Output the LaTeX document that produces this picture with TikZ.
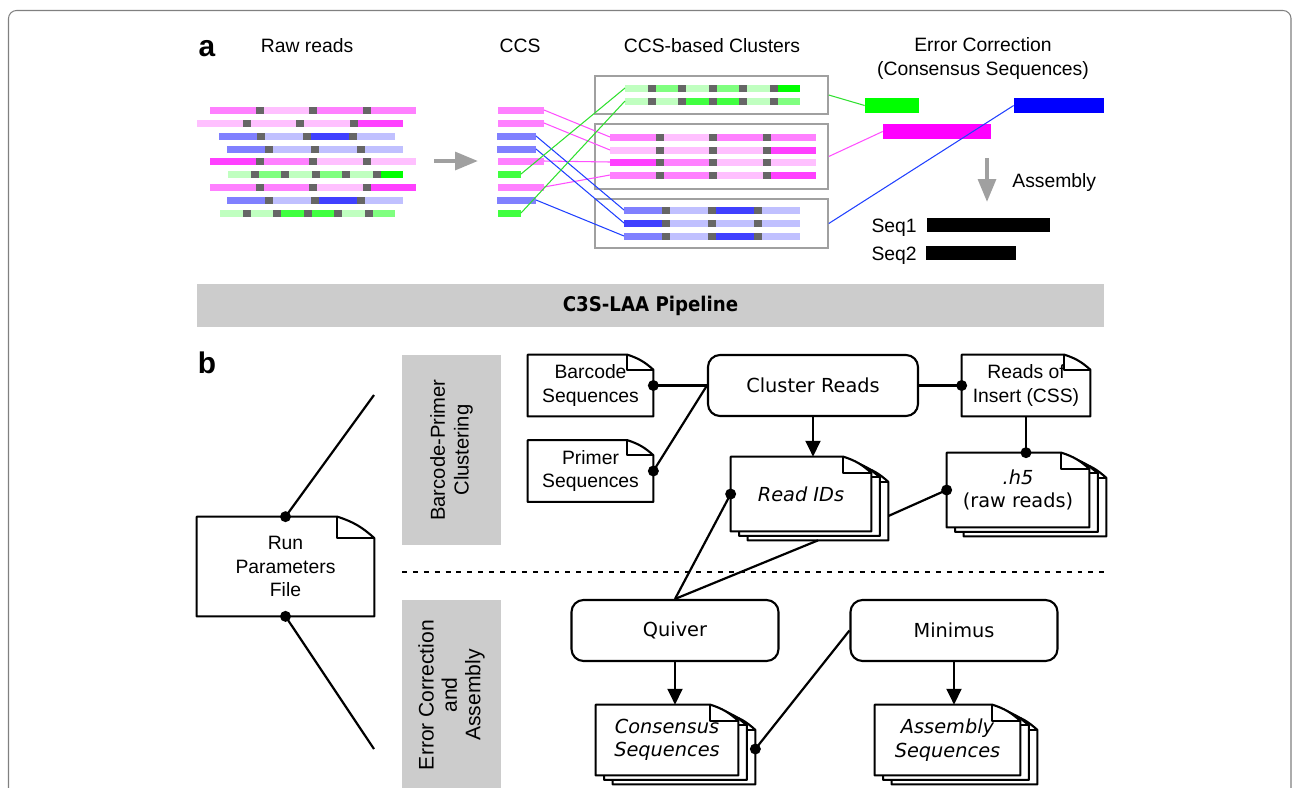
\documentclass[tikz,border=0pt]{standalone}
\usepackage{fontspec}
\setmainfont{Liberation Sans}
\newfontfamily\dvfont{DejaVu Sans}
\newfontfamily\titlefont{DejaVu Sans Condensed Bold}
\usetikzlibrary{arrows.meta,calc,backgrounds}

\definecolor{pA}{HTML}{FFC0FF}
\definecolor{pB}{HTML}{FF80FF}
\definecolor{pC}{HTML}{FF40FF}
\definecolor{bA}{HTML}{C0C0FF}
\definecolor{bB}{HTML}{8080FF}
\definecolor{bC}{HTML}{4040FF}
\definecolor{gA}{HTML}{C0FFC0}
\definecolor{gB}{HTML}{80FF80}
\definecolor{gC}{HTML}{40FF40}
\definecolor{gD}{HTML}{00FF00}
\definecolor{pD}{HTML}{FF00FF}
\definecolor{bD}{HTML}{0000FF}
\definecolor{sep}{HTML}{666666}
\definecolor{lanegray}{HTML}{CCCCCC}
\definecolor{boxgray}{HTML}{A0A0A0}
\definecolor{pinkln}{HTML}{FF50FF}
\definecolor{blueln}{HTML}{2040FF}
\definecolor{greenln}{HTML}{30E030}

\newcommand{\elevenpt}{\fontsize{11pt}{13.3pt}\selectfont}

% one read: name, x, y, segment length, colours
\newcommand{\readbar}[5]{%
  \foreach \col [count=\i from 0] in {#5}{
    \ifnum\i>0 \fill[sep] ({#2+\i*(#4+8)-8},{#3-3.5}) rectangle ++(8,7); \fi
    \fill[\col] ({#2+\i*(#4+8)},{#3-3.5}) rectangle ++(#4,7);
    \coordinate (#1-e) at ({#2+\i*(#4+8)+#4},#3);
  }
  \coordinate (#1-w) at (#2,#3);
}

% sheet outline behind a doc node: node, sheets behind, fold width
\newcommand{\docpages}[3]{%
  \foreach \k in {#2,...,0}{
    \filldraw[docline, fill=white]
      ($(#1.north west)+(\k*8.5,\k*4.5)$) -- ($(#1.north east)+(\k*8.5-#3,\k*4.5)$)
      to[bend left=12] ($(#1.north east)+(\k*8.5,\k*4.5+0.58*#3)$)
      -- ($(#1.south east)+(\k*8.5,\k*4.5)$) -- ($(#1.south west)+(\k*8.5,\k*4.5)$) -- cycle;
    \draw[docline] ($(#1.north east)+(\k*8.5-#3,\k*4.5)$) -- ++(0,0.58*#3)
      -- ($(#1.north east)+(\k*8.5,\k*4.5+0.58*#3)$);
  }
}

\begin{document}
\begin{tikzpicture}[x=0.2mm,y=-0.2mm,
  font=\elevenpt,
  wire/.style={line width=1.25pt},
  arr/.style={wire,-{Triangle[length=9pt,width=8.5pt]}},
  bigarr/.style={draw=boxgray, line width=2.3pt, -{Triangle[length=13pt,width=10pt]}},
  docline/.style={line width=1.2pt, line join=round},
  doc/.style={align=center, inner sep=0pt, minimum height=12.2mm},
  proc/.style={draw, line width=1.2pt, rounded corners=2.4mm, minimum width=41.4mm,
    minimum height=12.2mm, font=\elevenpt\dvfont},
  lane/.style={fill=lanegray, rotate=90, align=center, minimum width=38mm, minimum height=19.8mm},
  cbox/.style={draw=boxgray, line width=0.85pt, minimum width=46.6mm},
  ecbar/.style={minimum height=3mm, inner sep=0pt},
  tag/.style={anchor=base, inner sep=0pt, font=\fontsize{17pt}{17pt}\selectfont\bfseries},
  lbl/.style={anchor=base, inner sep=0pt}]

\useasboundingbox (0,0) rectangle (1292,787);
\clip (0,0) rectangle (1292,787);
\draw[gray, line width=0.6pt, rounded corners=1.6mm] (8.5,820) -- (8.5,10.5) -- (1291,10.5) -- (1291,820);

% a
\node (taga) [tag] at (207,56) {a};
\node (rawlbl) [lbl] at (307,52) {Raw reads};
\node (ccslbl) [lbl] at (520,52) {CCS};
\node (clulbl) [lbl] at (712,52) {CCS-based Clusters};
\node (eclbl) [align=center, inner sep=0pt] at (983,58.5) {Error Correction\\(Consensus Sequences)};

\readbar{r1}{210}{110}{45.5}{pB,pA,pB,pB}
\readbar{r2}{197}{123}{45.5}{pA,pA,pA,pC}
\readbar{r3}{219}{136}{38}{bB,bA,bC,bA}
\readbar{r4}{227}{149}{38}{bB,bA,bA,bA}
\readbar{r5}{210}{161}{45.5}{pC,pB,pA,pA}
\readbar{r6}{228}{174}{22.5}{gA,gB,gA,gB,gA,gD}
\readbar{r7}{210}{187}{45.5}{pB,pB,pA,pC}
\readbar{r8}{227}{200}{38}{bB,bA,bC,bA}
\readbar{r9}{220}{213}{22.5}{gA,gA,gC,gC,gA,gB}

\draw[bigarr] (434,161) -- (478,161);

\readbar{c1}{498}{110}{46}{pB}
\readbar{c2}{498}{123}{46}{pB}
\readbar{c3}{497}{136}{39}{bB}
\readbar{c4}{497}{149}{39}{bB}
\readbar{c5}{498}{161}{46}{pB}
\readbar{c6}{498}{174}{23}{gC}
\readbar{c7}{498}{187}{46}{pB}
\readbar{c8}{497}{200}{39}{bB}
\readbar{c9}{498}{213}{23}{gC}

\node (kA) [cbox, minimum height=7.6mm] at (711.5,95) {};
\node (kB) [cbox, minimum height=13mm] at (711.5,156.5) {};
\node (kC) [cbox, minimum height=9.8mm] at (711.5,223.5) {};

\readbar{kA1}{625}{88}{22.5}{gA,gB,gA,gB,gA,gD}
\readbar{kA2}{625}{101}{22.5}{gA,gA,gC,gC,gA,gB}
\readbar{kB1}{610}{137}{45.5}{pB,pA,pB,pB}
\readbar{kB2}{610}{150}{45.5}{pA,pA,pA,pC}
\readbar{kB3}{610}{162}{45.5}{pC,pB,pA,pA}
\readbar{kB4}{610}{175}{45.5}{pB,pB,pA,pC}
\readbar{kC1}{624}{210}{38}{bB,bA,bC,bA}
\readbar{kC2}{624}{223}{38}{bC,bA,bA,bA}
\readbar{kC3}{624}{236}{38}{bB,bA,bC,bA}

\node (ecG) [ecbar, fill=gD, minimum width=10.8mm] at (892,105.5) {};
\node (ecP) [ecbar, fill=pD, minimum width=21.6mm] at (937,131.5) {};
\node (ecB) [ecbar, fill=bD, minimum width=18mm] at (1059,105.5) {};

\path[line width=0.6pt]
  (c1-e) edge[draw=pinkln] (kB1-w)
  (c2-e) edge[draw=pinkln] (kB2-w)
  (c5-e) edge[draw=pinkln] (kB3-w)
  (c7-e) edge[draw=pinkln] (kB4-w)
  (c3-e) edge[draw=blueln] (kC1-w)
  (c4-e) edge[draw=blueln] (kC2-w)
  (c8-e) edge[draw=blueln] (kC3-w)
  (c6-e) edge[draw=greenln] (kA1-w)
  (c9-e) edge[draw=greenln] (kA2-w)
  (kA.east) edge[draw=greenln] (ecG.west)
  (kB.east) edge[draw=pinkln] (ecP.west)
  (kC.east) edge[draw=blueln] (ecB.west);

\draw[bigarr] (987,158) -- (987,202);
\node (asmlbl) [anchor=base west, inner sep=0pt] at (1012,187) {Assembly};
\node (seqA) [anchor=base east, inner sep=0pt] at (917,232) {Seq1};
\node (seqB) [anchor=base east, inner sep=0pt] at (917,260) {Seq2};
\node (seqbarA) [fill=black, inner sep=0pt, minimum width=24.6mm, minimum height=2.8mm] at (988.5,225) {};
\node (seqbarB) [fill=black, inner sep=0pt, minimum width=18mm, minimum height=2.8mm] at (971,253) {};

\node (pipe) [fill=lanegray, minimum width=181.4mm, minimum height=8.6mm,
  font=\titlefont\fontsize{11.5pt}{13pt}\selectfont] at (650.5,305.5) {C3S-LAA Pipeline};

% b
\node (tagb) [tag] at (207,373) {b};
\node (laneA) [lane, font=\fontsize{11.5pt}{13.5pt}\selectfont] at (451.5,450) {Barcode-Primer\\Clustering};
\node (laneB) [lane, font=\fontsize{12pt}{13.3pt}\selectfont] at (451.5,695) {Error Correction\\and\\Assembly};
\draw[line width=0.85pt, dash pattern=on 2.8pt off 3.4pt] (402,572) -- (1104,572);

\node (bcseq) [doc, minimum width=25mm] at (590.5,385.5) {Barcode\\Sequences};
\node (prseq) [doc, minimum width=25mm] at (590.5,471) {Primer\\Sequences};
\node (cluster) [proc, minimum width=42mm] at (813,385.5) {Cluster Reads};
\node (roi) [doc, minimum width=25.6mm] at (1026,385.5) {Reads of\\Insert (CSS)};
\node (readids) [doc, minimum width=28mm, minimum height=14.8mm, font=\elevenpt\dvfont\itshape] at (801,494) {Read IDs};
\node (h5) [doc, minimum width=28.4mm, minimum height=14.8mm, font=\elevenpt\dvfont] at (1018,490) {\textit{.h5}\\(raw reads)};
\node (runpar) [doc, minimum width=35.4mm, minimum height=19.8mm] at (285.5,566.5) {Run\\Parameters\\File};
\node (quiver) [proc] at (675,630.5) {Quiver};
\node (minimus) [proc] at (954,630.5) {Minimus};
\node (consensus) [doc, minimum width=28.4mm, minimum height=14mm, font=\elevenpt\dvfont\itshape] at (667,740) {Consensus\\Sequences};
\node (assembly) [doc, minimum width=29mm, minimum height=14mm, font=\elevenpt\dvfont\itshape] at (947.5,740) {Assembly\\Sequences};

\begin{pgfonlayer}{background}
  \docpages{bcseq}{0}{26}
  \docpages{prseq}{0}{26}
  \docpages{roi}{0}{26}
  \docpages{readids}{2}{28}
  \docpages{h5}{2}{28}
  \docpages{runpar}{0}{37}
  \docpages{consensus}{2}{28}
  \docpages{assembly}{2}{28}
\end{pgfonlayer}

\coordinate (upA) at (374,395);
\coordinate (loA) at (374,749);

\draw[wire] (bcseq.east) -- (bcseq.east -| cluster.west);
\draw[wire] (prseq.east) -- (bcseq.east -| cluster.west);
\draw[wire] (cluster.east) -- (roi.west);
\draw[wire] (roi.south) -- (roi.south |- h5.north);
\draw[arr] (cluster.south) -- (cluster.south |- readids.north);
\draw[wire] (h5.west) -- ($(readids.east)+(17,22)$);
\draw[wire] (readids.west) -- (quiver.north);
\draw[wire] ($(readids.south)+(17,9)$) -- (quiver.north);
\draw[arr] (quiver.south) -- (quiver.south |- consensus.north);
\draw[arr] (minimus.south) -- (minimus.south |- assembly.north);
\draw[wire] ($(consensus.east)+(17,9)$) -- (minimus.west);
\draw[wire] (runpar.north) -- (upA);
\draw[wire] (runpar.south) -- (loA);

\foreach \p in {bcseq.east, prseq.east, roi.west, h5.west, readids.west, runpar.north, runpar.south}
  \fill (\p) circle (5.5);
\fill (roi.south |- h5.north) circle (5.5);
\fill ($(consensus.east)+(17,9)$) circle (5.5);

\end{tikzpicture}
\end{document}
